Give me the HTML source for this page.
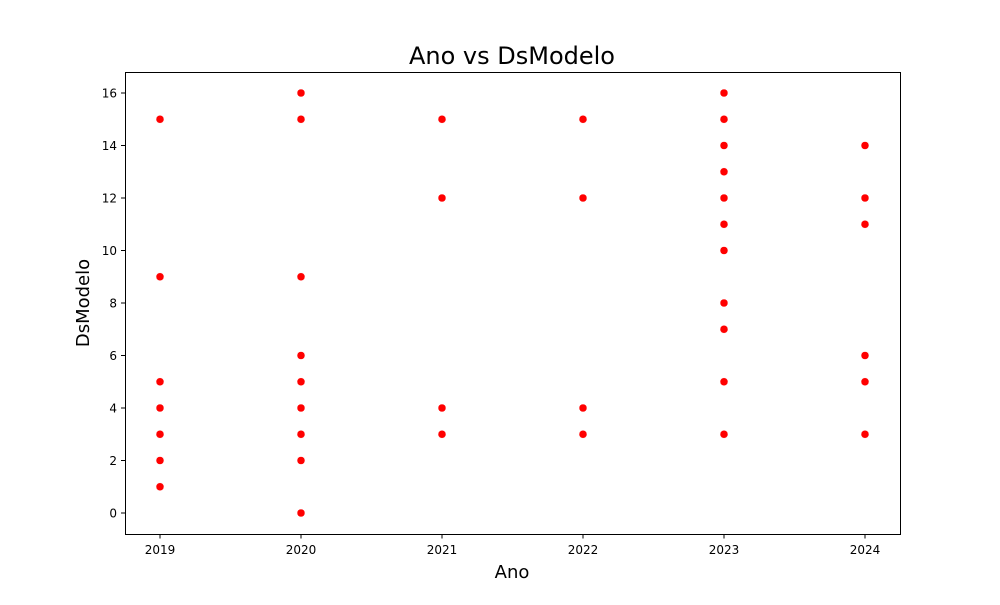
<!DOCTYPE html>
<html><head><meta charset="utf-8"><style>
body{margin:0;background:#fff;font-family:"Liberation Sans","DejaVu Sans",sans-serif;}
</style></head><body>
<svg id="chart" width="1000" height="600" xmlns="http://www.w3.org/2000/svg" font-family="DejaVu Sans, Liberation Sans, sans-serif">
<rect width="1000" height="600" fill="#fff"/>
<text x="512" y="64" text-anchor="middle" font-size="24">Ano vs DsModelo</text>
<text x="512" y="578" text-anchor="middle" font-size="18">Ano</text>
<text x="89" y="303" text-anchor="middle" font-size="18" transform="rotate(-90 89 303)">DsModelo</text>
<g id="xt"></g><g id="yt"></g><g id="pts"></g>
<rect x="125.5" y="72.5" width="775" height="462" fill="none" stroke="#000" stroke-width="1"/>
</svg>
<script>
const xTicks=[2019,2020,2021,2022,2023,2024];
const yTicks=[0,2,4,6,8,10,12,14,16];
const years=[2019,2019,2019,2019,2019,2019,2019,
2020,2020,2020,2020,2020,2020,2020,2020,2020,
2021,2021,2021,2021,
2022,2022,2022,2022,
2023,2023,2023,2023,2023,2023,2023,2023,2023,2023,2023,
2024,2024,2024,2024,2024,2024];
const models=[15,9,5,4,3,2,1,
16,15,9,6,5,4,3,2,0,
15,12,4,3,
15,12,4,3,
16,15,14,13,12,11,10,8,7,5,3,
14,12,11,6,5,3];
const NS="http://www.w3.org/2000/svg";
const xS=v=>160+(v-2019)*141;
const yS=v=>513-v*26.25;
function mk(t,a,p){const e=document.createElementNS(NS,t);for(const k in a)e.setAttribute(k,a[k]);p.appendChild(e);return e;}
const xt=document.getElementById('xt'),yt=document.getElementById('yt'),pts=document.getElementById('pts');
xTicks.forEach(v=>{const x=xS(v);
const l=mk('line',{x1:x,x2:x,y1:534,y2:538.5,stroke:'#000'},xt);


const t=mk('text',{x:x,y:554,'text-anchor':'middle','font-size':'12'},xt);t.textContent=v;

});
yTicks.forEach(v=>{const y=yS(v);
const l=mk('line',{x1:121,x2:125.5,y1:y,y2:y,stroke:'#000'},yt);


const t=mk('text',{x:117,y:y+4.5,'text-anchor':'end','font-size':'12'},yt);t.textContent=v;

});
years.forEach((yr,i)=>{const c=mk('circle',{cx:xS(yr),cy:yS(models[i]),r:4,fill:'#ff0000',stroke:'#fff','stroke-width':0.5},pts);

});
</script>
</body></html>
